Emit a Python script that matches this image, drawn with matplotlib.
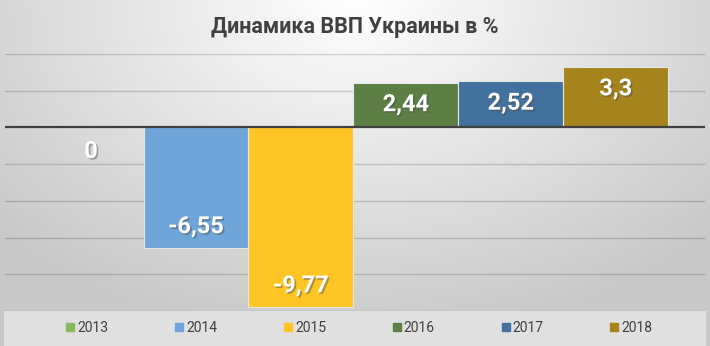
import matplotlib.pyplot as plt
import matplotlib.patheffects as pe
from matplotlib.lines import Line2D
import numpy as np

plt.rcParams['font.family'] = ['Roboto', 'DejaVu Sans']

years = ['2013', '2014', '2015', '2016', '2017', '2018']
gdp = [0, -6.55, -9.77, 2.44, 2.52, 3.3]
labels = ['0', '-6,55', '-9,77', '2,44', '2,52', '3,3']
colors = ['#8ab85c', '#6fa5d8', '#fec524', '#5b7f45', '#41719c', '#a5841e']
title = 'Динамика ВВП Украины в %'

W, H = 710, 346
fig = plt.figure(figsize=(W / 100, H / 100), dpi=100)

# background: light radial gradient, white at top centre
bg = fig.add_axes([0, 0, 1, 1], zorder=-10)
yy, xx = np.mgrid[0:H, 0:W]
r = np.sqrt((xx - W / 2) ** 2 + (yy * 1.4) ** 2) / 380.0
shade = 1.0 - 0.17 * np.clip(r, 0, 1.25)
bg.imshow(np.dstack([shade] * 3), extent=[0, W, H, 0], aspect='auto')
bg.axis('off')

# legend panel
bg.add_patch(plt.Rectangle((4, 311), W - 8, 35, facecolor='#e0e0e0',
                           edgecolor='none', zorder=2))
bg.set_xlim(0, W)
bg.set_ylim(H, 0)

ax = fig.add_axes([5 / W, (H - 311) / H, 700 / W, (311 - 54) / H])
ax.patch.set_alpha(0)
x = np.arange(len(years))
ax.bar(x, gdp, width=1.0, color=colors, edgecolor='#e6e6e6', linewidth=0.8, zorder=3)
ax.set_xlim(-0.82, 5.85)
ax.set_ylim(-10, 4)
for v in range(-10, 5, 2):
    if v != 0:
        ax.axhline(v, color='black', alpha=0.16, lw=1, zorder=1)
ax.axhline(0, color='#404040', lw=1.6, zorder=4)
for s in ax.spines.values():
    s.set_visible(False)
ax.set_xticks([])
ax.set_yticks([])

# labels sit inside the bar end; the zero bar gets its label below the axis
shadow = [pe.SimplePatchShadow(offset=(1.2, -1.2), alpha=0.45), pe.Normal()]
for xi, v, lab in zip(x, gdp, labels):
    if v > 0:
        dy = -22
    elif v < 0:
        dy = 21
    else:
        dy = -24
    ax.annotate(lab, (xi, v), xytext=(0, dy), textcoords='offset pixels',
                ha='center', va='center', color='white', fontsize=17,
                fontweight='bold', path_effects=shadow, zorder=5)

fig.text(0.5, 1 - 27 / H, title, ha='center', va='center', fontsize=15.5,
         fontweight='bold', color='#404040')

handles = [Line2D([], [], marker='s', ls='none', color=c, markersize=6) for c in colors]
fig.legend(handles, years, loc='center', bbox_to_anchor=(0.505, (H - 328) / H),
           ncol=6, frameon=False, fontsize=10, labelcolor='#404040',
           handletextpad=0.1, columnspacing=4.7, handlelength=0.8)

fig.savefig('out.png', dpi=100)
